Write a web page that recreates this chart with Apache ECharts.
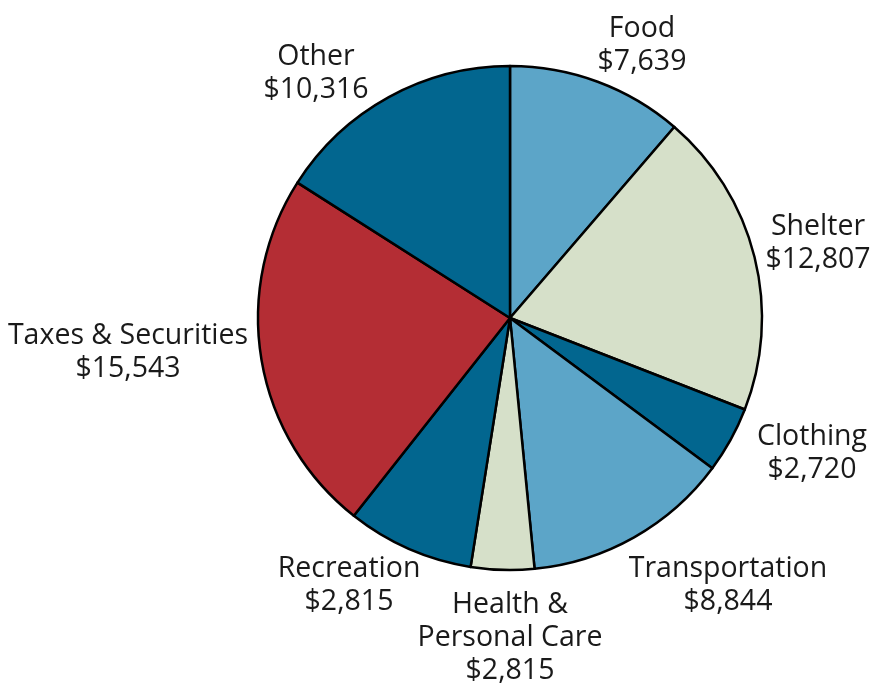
<!DOCTYPE html>
<html>
<head>
<meta charset="utf-8">
<script src="https://cdn.jsdelivr.net/npm/echarts@6/dist/echarts.min.js"></script>
<style>
  html, body { margin: 0; padding: 0; background: #fff; }
  #chart { width: 878px; height: 690px; }
</style>
</head>
<body>
<div id="chart"></div>
<script>
// categories clockwise from 12 o'clock
const categories = ['Food', 'Shelter', 'Clothing', 'Transportation', 'Health &\nPersonal Care', 'Recreation', 'Taxes & Securities', 'Other'];
// dollar amounts printed on the labels
const amounts = [7639, 12807, 2720, 8844, 2815, 2815, 15543, 10316];
// slice sizes as drawn in the picture (degrees of arc)
const sliceDegrees = [40.7, 70.6, 15.3, 47.8, 14.6, 29.3, 84.2, 57.5];
const colors = ['#5ca5c8', '#d6e0c9', '#02668f', '#5ca5c8', '#d6e0c9', '#02668f', '#b42d34', '#02668f'];

// label centres (text block centre) for each slice
const labelPos = [
  [642, 45], [818, 243], [812, 453], [728, 585],
  [510, 638], [349, 585], [128, 352], [316, 73]
];

const chart = echarts.init(document.getElementById('chart'), null, { renderer: 'canvas' });

const option = {
  backgroundColor: '#fff',
  animation: false,
  series: [{
    type: 'pie',
    center: [510, 318],
    radius: [0, 252],
    startAngle: 90,
    clockwise: true,
    data: categories.map((name, i) => ({
      name: name,
      value: sliceDegrees[i],
      amount: amounts[i],
      itemStyle: { color: colors[i] }
    })),
    itemStyle: { borderColor: '#000', borderWidth: 2.5 },
    label: {
      show: true,
      position: 'outside',
      formatter: (p) => p.name + '\n$' + amounts[p.dataIndex].toLocaleString('en-US'),
      color: '#1a1a1a',
      fontFamily: 'Open Sans',
      fontSize: 28.5,
      lineHeight: 33,
      align: 'center',
      overflow: 'none',
      width: 300
    },
    labelLine: { show: false },
    labelLayout: (params) => {
      const pos = labelPos[params.dataIndex];
      return {
        x: pos[0],
        y: pos[1],
        align: 'center',
        verticalAlign: 'middle'
      };
    },
    emphasis: { disabled: true }
  }]
};

chart.setOption(option);
</script>
</body>
</html>
